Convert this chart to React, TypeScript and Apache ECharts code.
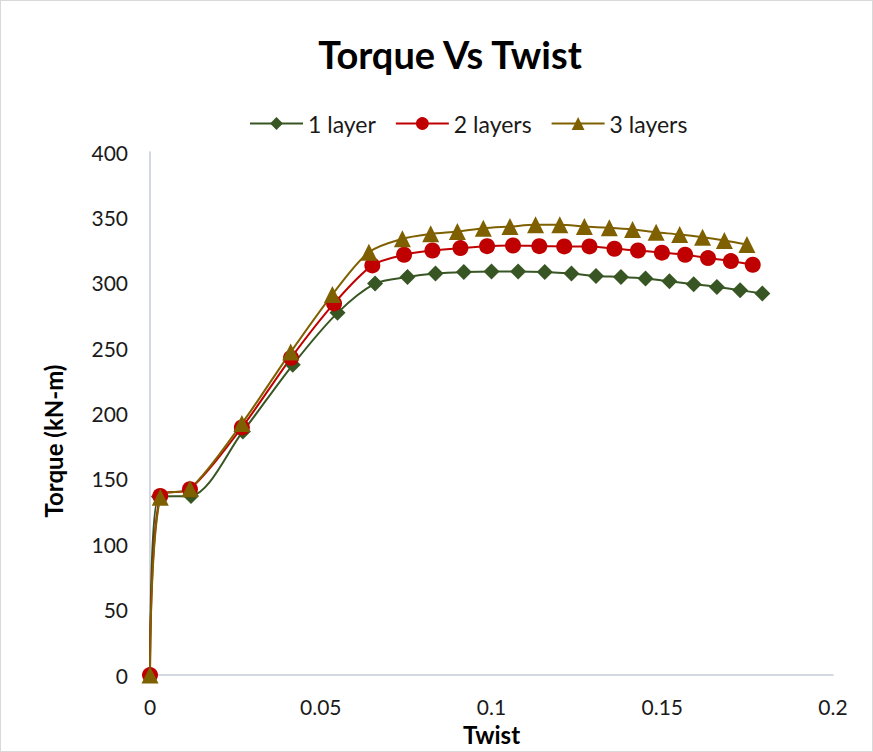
import React, { useEffect, useRef } from "react";
import * as echarts from "echarts";

const seriesNames = ["1 layer", "2 layers", "3 layers"];

const twist1 = [0, 0.0026, 0.012, 0.0272, 0.0418, 0.0549, 0.0659, 0.0754, 0.0836, 0.0919, 0.1, 0.1078, 0.1156, 0.1234, 0.1306, 0.1379, 0.1451, 0.1521, 0.1592, 0.166, 0.1728, 0.1793];
const torque1 = [0, 136.5, 137, 186.3, 237.3, 277.0, 299.4, 304.4, 307.0, 308.2, 308.7, 308.7, 308.2, 307.0, 305.2, 304.4, 303.2, 301.1, 298.9, 296.8, 294.3, 291.8];

const twist2 = [0, 0.003, 0.0117, 0.0269, 0.0413, 0.0539, 0.0651, 0.0744, 0.0827, 0.0909, 0.0987, 0.1063, 0.114, 0.1213, 0.1287, 0.136, 0.1429, 0.1499, 0.1567, 0.1634, 0.1701, 0.1765];
const torque2 = [0, 137, 142.2, 189.4, 242.6, 284.2, 313.3, 321.4, 324.7, 326.5, 328.0, 328.5, 328.0, 327.8, 327.8, 326.0, 324.7, 323.0, 321.4, 318.9, 316.6, 313.8];

const twist3 = [0, 0.003, 0.0117, 0.0269, 0.0412, 0.0534, 0.0641, 0.0739, 0.0822, 0.09, 0.0976, 0.1054, 0.1129, 0.12, 0.1272, 0.1345, 0.1413, 0.1482, 0.1551, 0.1618, 0.1682, 0.1748];
const torque3 = [0, 136, 142.5, 192.4, 247, 291.0, 323.4, 333.6, 337.4, 339.2, 341.7, 343.0, 344.3, 344.3, 343.0, 342.0, 340.7, 338.6, 336.9, 334.8, 332.3, 329.2];

const xTicks = [0, 0.05, 0.1, 0.15, 0.2];
const yTicks = [0, 50, 100, 150, 200, 250, 300, 350, 400];

const FONT = "Lato, 'Open Sans', sans-serif";

function zip(xs: number[], ys: number[]) {
  return xs.map((x, i) => [x, ys[i]]);
}

export default function App() {
  const ref = useRef<HTMLDivElement>(null);
  useEffect(() => {
    if (!ref.current) return;
    const chart = echarts.init(ref.current, undefined, { renderer: "svg" });
    const axisColor = "#c3cad8";
    const labelColor = "#1a1a1a";
    const mk = (name: string, data: number[][], color: string, symbol: string, size: number) => ({
      name,
      type: "line",
      data,
      smooth: 0.3,
      symbol,
      symbolSize: size,
      showAllSymbol: true,
      lineStyle: { color, width: 2 },
      itemStyle: { color },
      z: 2,
    });
    chart.setOption({
      animation: false,
      backgroundColor: "#ffffff",
      title: {
        text: "Torque Vs Twist",
        left: 444,
        textAlign: "center",
        top: 29,
        textStyle: { fontFamily: FONT, fontSize: 38, fontWeight: "bold", color: "#000" },
      },
      legend: {
        top: 106,
        left: 243,
        itemWidth: 53,
        itemHeight: 16,
        itemGap: 19,
        textStyle: { fontFamily: FONT, fontSize: 23, color: "#1a1a1a" },
        data: seriesNames,
      },
      grid: { left: 149, right: 39, top: 151, bottom: 75, containLabel: false },
      xAxis: {
        type: "value",
        min: xTicks[0],
        max: xTicks[xTicks.length - 1],
        interval: 0.05,
        name: "Twist",
        nameLocation: "middle",
        nameGap: 46,
        nameTextStyle: { fontFamily: FONT, fontSize: 24, fontWeight: "bold", color: "#000" },
        axisLine: { lineStyle: { color: axisColor, width: 1.5 } },
        axisTick: { show: false },
        splitLine: { show: false },
        axisLabel: { fontFamily: FONT, fontSize: 21, color: labelColor, margin: 21 },
      },
      yAxis: {
        type: "value",
        min: yTicks[0],
        max: yTicks[yTicks.length - 1],
        interval: 50,
        axisLine: { show: true, lineStyle: { color: axisColor, width: 1.5 } },
        axisTick: { show: false },
        splitLine: { show: false },
        axisLabel: { fontFamily: FONT, fontSize: 21, color: labelColor, margin: 22 },
      },
      graphic: [
        {
          type: "text",
          x: 52,
          y: 440,
          rotation: Math.PI / 2,
          style: {
            text: "Torque (kN-m)",
            fontFamily: FONT,
            fontSize: 24,
            fontWeight: "bold",
            fill: "#000",
            align: "center",
            verticalAlign: "middle",
          },
        },
      ],
      series: [
        mk(seriesNames[0], zip(twist1, torque1), "#375623", "diamond", 16),
        mk(seriesNames[1], zip(twist2, torque2), "#c00000", "circle", 16),
        mk(seriesNames[2], zip(twist3, torque3), "#7f6000", "triangle", 17),
      ],
    });
    return () => chart.dispose();
  }, []);
  return (
    <div
      ref={ref}
      style={{
        position: "fixed",
        left: 0,
        top: 0,
        width: 873,
        height: 752,
        boxSizing: "border-box",
        border: "1px solid #d9d9d9",
        background: "#fff",
      }}
    />
  );
}
